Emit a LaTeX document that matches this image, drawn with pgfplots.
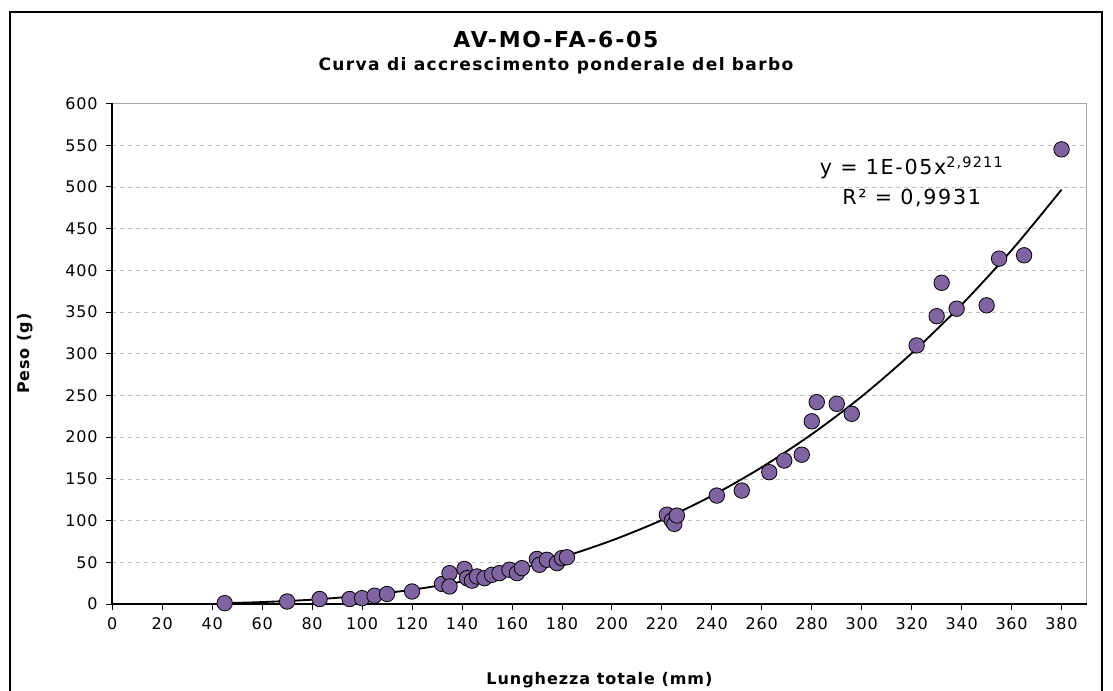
\documentclass[border=0pt]{standalone}
\usepackage{pgfplots}
\pgfplotsset{compat=1.18}
\usepackage{fontspec}
\setmainfont{DejaVu Sans}
\definecolor{ptcol}{HTML}{8064A2}
\definecolor{gridcol}{HTML}{C0C0C0}
\begin{document}
\begin{tikzpicture}
\useasboundingbox (0,0) rectangle (834.75pt,-518.25pt);
\draw[line width=1.5pt] (7.5pt,-520pt) -- (7.5pt,-9pt) -- (826.5pt,-9pt) -- (826.5pt,-520pt);
\node[font=\fontsize{16.5}{18}\selectfont\bfseries\addfontfeatures{LetterSpace=8}] at (417pt,-29.8pt) {AV-MO-FA-6-05};
\node[font=\fontsize{12.8}{14}\selectfont\bfseries\addfontfeatures{LetterSpace=8}] at (417pt,-49.5pt) {Curva di accrescimento ponderale del barbo};
\begin{axis}[
  at={(84.2pt,-453pt)}, anchor=south west,
  scale only axis, width=730.7pt, height=375.4pt,
  xmin=0, xmax=390, ymin=0, ymax=600,
  xtick={0,20,...,380}, ytick={0,50,...,600},
  tick align=outside, tick pos=left,
  major tick length=4.5pt,
  tick style={black, line width=0.6pt},
  ymajorgrids, grid style={gridcol, dashed, line width=0.5pt},
  axis line style={draw=gray!70, line width=0.6pt},
  /pgf/number format/assume math mode=true,
  tick label style={font=\fontsize{12}{14}\selectfont\addfontfeatures{LetterSpace=5}},
  yticklabel style={xshift=-3pt},
  xticklabel style={yshift=-2pt},
  xlabel={Lunghezza totale (mm)}, ylabel={Peso (g)},
  label style={font=\fontsize{12}{14}\selectfont\bfseries\addfontfeatures{LetterSpace=6}},
  x label style={at={(axis description cs:0.5,-0.152)}, anchor=center},
  y label style={at={(axis description cs:-0.0896,0.5)}, anchor=center, rotate=0},
  clip=false,
]
\addplot[only marks, mark=*, mark size=5.8pt, mark options={fill=ptcol, draw=black, line width=0.6pt}] coordinates {
(45,1) (70,3) (83,6) (95,6) (100,7) (105,10) (110,12) (120,15)
(132,24) (135,37) (135,21) (141,42) (142,31) (144,28) (146,33) (149,31)
(152,35) (155,37) (159,41) (162,37) (164,43) (170,54) (171,47) (174,53)
(178,49) (180,55) (182,56)
(222,107) (224,100) (225,96) (226,106) (242,130) (252,136) (263,158) (269,172)
(276,179) (280,219) (282,242) (290,240) (296,228) (322,310) (330,345)
(332,385) (338,354) (350,358) (355,414) (365,418) (380,545)
};
\addplot[black, line width=1.4pt, smooth] coordinates {
(45,1.0) (60,2.3) (80,5.2) (100,10.1) (120,17.1) (140,26.9) (160,39.7)
(180,56.0) (200,76.2) (220,100.6) (240,129.7) (260,163.9) (280,203.5)
(300,248.8) (320,300.6) (340,358.8) (360,424.1) (380,496.7)
};
\draw[black, line width=1.5pt] (rel axis cs:0,1) -- (rel axis cs:0,0) -- (rel axis cs:1,0);
\node[align=center, font=\fontsize{15.5}{22.5}\selectfont\addfontfeatures{LetterSpace=8}] at (axis cs:320,506) {y = 1E-05x\textsuperscript{2,9211}\\R² = 0,9931};
\end{axis}
\end{tikzpicture}
\end{document}
